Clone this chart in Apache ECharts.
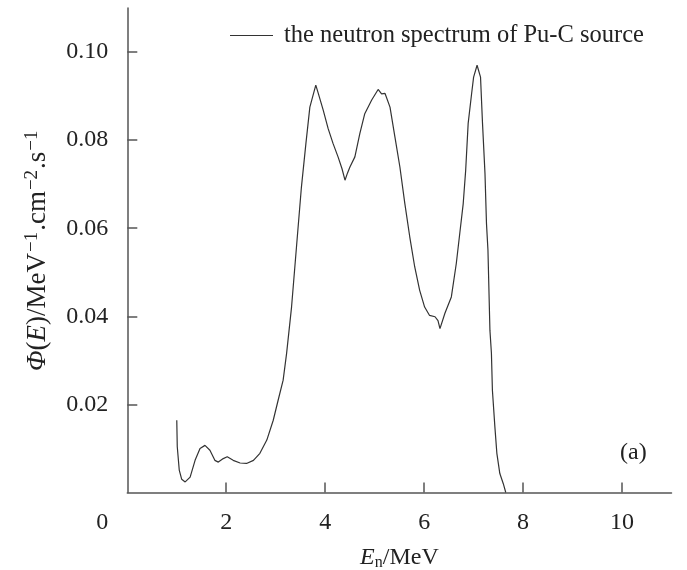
<!DOCTYPE html>
<html>
<head>
<meta charset="utf-8">
<script src="https://cdn.jsdelivr.net/npm/echarts@6/dist/echarts.min.js"></script>
<style>html,body{margin:0;padding:0;background:#fff}#c{width:687px;height:570px}</style>
</head>
<body>
<div id="c"></div>
<script>
// Energy (MeV)
var energy = [1.00,1.01,1.05,1.10,1.17,1.27,1.37,1.47,1.57,1.67,1.77,1.84,1.94,2.02,2.14,2.28,2.41,2.55,2.68,2.82,2.95,3.05,3.15,3.22,3.32,3.42,3.52,3.61,3.69,3.75,3.81,3.85,3.88,3.96,4.06,4.16,4.26,4.34,4.40,4.45,4.50,4.60,4.70,4.80,4.94,5.07,5.14,5.21,5.31,5.41,5.51,5.61,5.71,5.81,5.91,6.01,6.11,6.22,6.28,6.32,6.42,6.55,6.65,6.72,6.79,6.84,6.89,6.96,7.00,7.07,7.11,7.14,7.18,7.23,7.26,7.29,7.33,7.36,7.38,7.43,7.47,7.53,7.60,7.65];
// Flux Phi(E)
var flux = [0.0164,0.0104,0.0051,0.0030,0.0024,0.0035,0.0073,0.0100,0.0107,0.0096,0.0073,0.0069,0.0077,0.0081,0.0073,0.0067,0.0066,0.0073,0.0089,0.0119,0.0164,0.0210,0.0255,0.0316,0.0421,0.0558,0.0694,0.0792,0.0875,0.0900,0.0925,0.0910,0.0906,0.0868,0.0826,0.0792,0.0762,0.0735,0.0709,0.0725,0.0739,0.0762,0.0815,0.0860,0.0891,0.0915,0.0905,0.0906,0.0875,0.0807,0.0739,0.0656,0.0580,0.0512,0.0459,0.0421,0.0402,0.0399,0.0390,0.0372,0.0407,0.0444,0.0520,0.0588,0.0656,0.0732,0.0838,0.0906,0.0943,0.0970,0.0970,0.0943,0.0838,0.0724,0.0611,0.0550,0.0368,0.0316,0.0232,0.0149,0.0089,0.0043,0.0020,0.0000];
var xTicks = [2,4,6,8,10];
var xLabels = [0,2,4,6,8,10];
var yTicks = [0.02,0.04,0.06,0.08,0.10];
var seriesName = 'the neutron spectrum of Pu-C source';
var panelLabel = '(a)';

var FONT = '"Liberation Serif", "DejaVu Serif", serif';
var data = energy.map(function(e,i){return [e, flux[i]];});
var chart = echarts.init(document.getElementById('c'));
chart.setOption({
  animation:false,
  backgroundColor:'#fff',
  grid:{left:127.3, right:15.5, top:8, bottom:77.5, containLabel:false, outerBoundsMode:'none'},
  legend:{
    left:230, top:23, padding:0, itemGap:0, itemWidth:43, itemHeight:1,
    icon:'rect',
    textStyle:{fontFamily:FONT, fontSize:24.5, color:'#222', padding:[0,0,0,6]},
    data:[{name:seriesName, itemStyle:{color:'#333'}}]
  },
  xAxis:{
    type:'value', min:0, max:11,
    name:'{i|E}{sub|n}/MeV', nameLocation:'middle', nameGap:52,
    nameTextStyle:{fontFamily:FONT, fontSize:24, color:'#222',
      rich:{i:{fontFamily:FONT,fontSize:24,fontStyle:'italic',color:'#222'},
            sub:{fontFamily:FONT,fontSize:16,color:'#222',verticalAlign:'bottom',padding:[10,0,0,0]}}},
    axisLine:{show:true, onZero:false, lineStyle:{color:'#555', width:1.5}},
    axisTick:{show:true, inside:true, length:10, customValues:xTicks, lineStyle:{color:'#555', width:1.5}},
    axisLabel:{customValues:xLabels, margin:18, fontFamily:FONT, fontSize:24, color:'#222',
      formatter:function(v){return v===0?'{z|0}':String(v);},
      rich:{z:{fontFamily:FONT,fontSize:24,color:'#222',padding:[0,50,0,0]}}},
    splitLine:{show:false}
  },
  yAxis:{
    type:'value', min:0, max:0.11,
    name:'{i|Φ}({i|E})/MeV{s|−1}.cm{s|−2}.s{s|−1}', nameLocation:'middle', nameGap:74,
    nameTextStyle:{fontFamily:FONT, fontSize:27, color:'#222',
      rich:{i:{fontFamily:FONT,fontSize:27,fontStyle:'italic',color:'#222'},
            s:{fontFamily:FONT,fontSize:19,color:'#222',verticalAlign:'top',padding:[0,1,12,1]}}},
    axisLine:{show:true, onZero:false, lineStyle:{color:'#555', width:1.5}},
    axisTick:{show:true, inside:true, length:10, customValues:yTicks, lineStyle:{color:'#555', width:1.5}},
    axisLabel:{customValues:yTicks, margin:19, fontFamily:FONT, fontSize:24, color:'#222',
      formatter:function(v){return v.toFixed(2);}},
    splitLine:{show:false}
  },
  graphic:[{type:'text', left:620, top:441,
    style:{text:panelLabel, font:'24px "Liberation Serif", serif', fill:'#222'}}],
  series:[{
    name:seriesName, type:'line', data:data, showSymbol:false, symbol:'none',
    lineStyle:{color:'#333', width:1.2}, itemStyle:{color:'#333'}
  }]
});
</script>
</body>
</html>
